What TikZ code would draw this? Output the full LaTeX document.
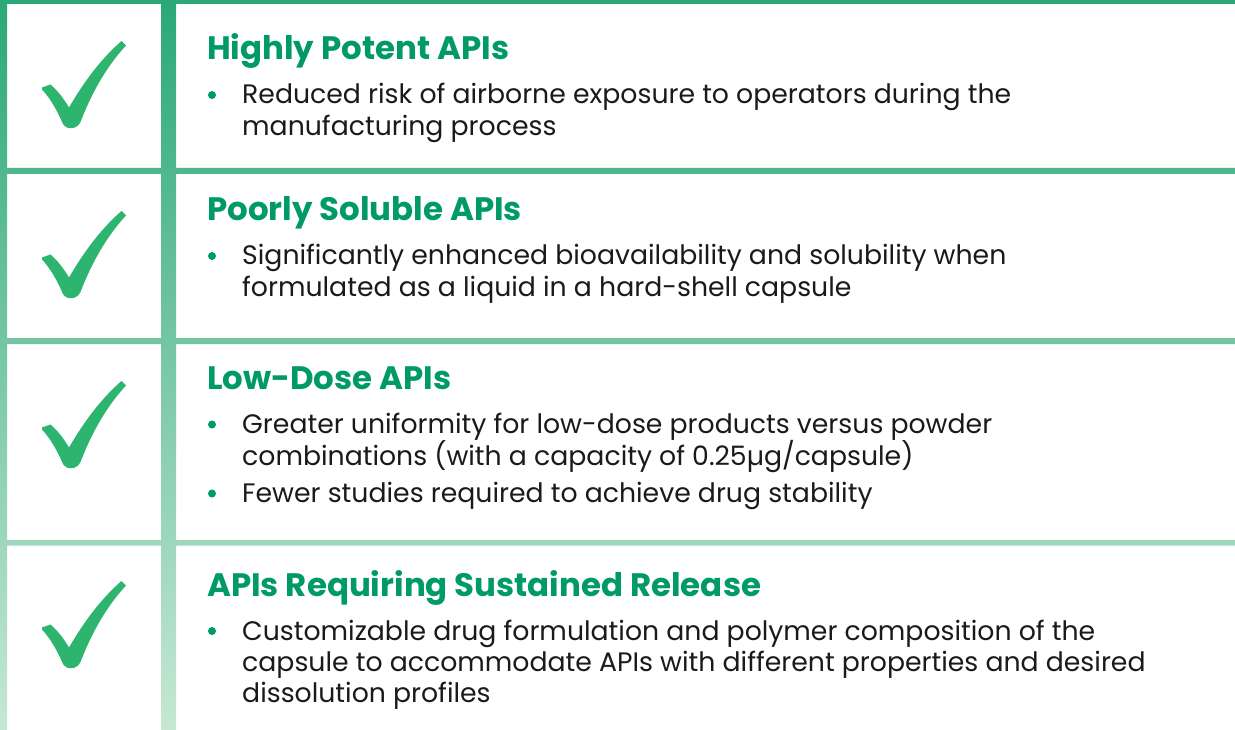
\documentclass[tikz,border=0pt]{standalone}
\usepackage{fontspec}
\setmainfont{Poppins}
\definecolor{titlegreen}{HTML}{009A66}
\definecolor{checkgreen}{HTML}{2DB56F}
\definecolor{bodytext}{HTML}{1A1A1A}
\definecolor{bartop}{HTML}{2BA878}
\definecolor{barbot}{HTML}{C6E8D3}
\newlength\mwd
\begin{document}
\settowidth{\mwd}{\fontsize{10pt}{12pt}\selectfont Reduced risk of airborne exposure to operators during the}%
\pgfmathsetmacro\bsz{10*769/\mwd}%
\settowidth{\mwd}{\fontsize{10pt}{12pt}\selectfont\bfseries Highly Potent APIs}%
\pgfmathsetmacro\tsz{10*302/\mwd}%
\begin{tikzpicture}[x=1pt,y=-1pt,
  ttl/.style={anchor=base west, inner sep=0pt, text=titlegreen, font=\fontsize{\tsz pt}{\tsz pt}\selectfont\bfseries},
  bod/.style={anchor=base west, inner sep=0pt, text=bodytext, font=\fontsize{\bsz pt}{\bsz pt}\selectfont},
  bul/.style={circle, fill=titlegreen, inner sep=0pt, minimum size=8pt},
  chk/.pic={\fill[checkgreen] (42,87.5) -- (50.5,84.5) .. controls (58,91) and (64,99) .. (69,107.5)
      .. controls (85,80) and (102,58) .. (121.5,41) -- (126,45.5)
      .. controls (107,66) and (92,92) .. (80.5,122) .. controls (77,129.5) and (67,130.5) .. (63,124)
      .. controls (57,110) and (50,98) .. (42,89.5) -- cycle;}
]
\useasboundingbox (0,0) rectangle (1235,730);
\fill[white] (0,0) rectangle (1235,730);
% grid bars with vertical gradient
\shade[top color=bartop, bottom color=barbot]
  (0,0) rectangle (7,730)
  (161,0) rectangle (176,730)
  (0,0) rectangle (1235,4)
  (0,168) rectangle (1235,174)
  (0,338) rectangle (1235,344)
  (0,540) rectangle (1235,545.5);
% check marks
\pic at (0,0) {chk};
\pic at (0,170) {chk};
\pic at (0,340) {chk};
\pic at (0,540) {chk};
% row 1
\node[ttl] (t1) at (207,60) {Highly Potent APIs};
\node[bul] (b1) at (212,95) {};
\node[bod] (l11) at (242,104) {Reduced risk of airborne exposure to operators during the};
\node[bod] (l12) at (242,136) {manufacturing process};
% row 2
\node[ttl] (t2) at (207,221) {Poorly Soluble APIs};
\node[bul] (b2) at (212,256) {};
\node[bod] (l21) at (242,265) {Significantly enhanced bioavailability and solubility when};
\node[bod] (l22) at (242,297) {formulated as a liquid in a hard-shell capsule};
% row 3
\node[ttl] (t3) at (207,389) {Low-Dose APIs};
\node[bul] (b31) at (212,424.5) {};
\node[bod] (l31) at (242,433) {Greater uniformity for low-dose products versus powder};
\node[bod] (l32) at (242,465) {combinations (with a capacity of 0.25µg/capsule)};
\node[bul] (b32) at (212,493.5) {};
\node[bod] (l33) at (242,502) {Fewer studies required to achieve drug stability};
% row 4
\node[ttl] (t4) at (207,596) {APIs Requiring Sustained Release};
\node[bul] (b4) at (212,631) {};
\node[bod] (l41) at (242,640) {Customizable drug formulation and polymer composition of the};
\node[bod] (l42) at (242,671) {capsule to accommodate APIs with different properties and desired};
\node[bod] (l43) at (242,702) {dissolution profiles};
\end{tikzpicture}
\end{document}
